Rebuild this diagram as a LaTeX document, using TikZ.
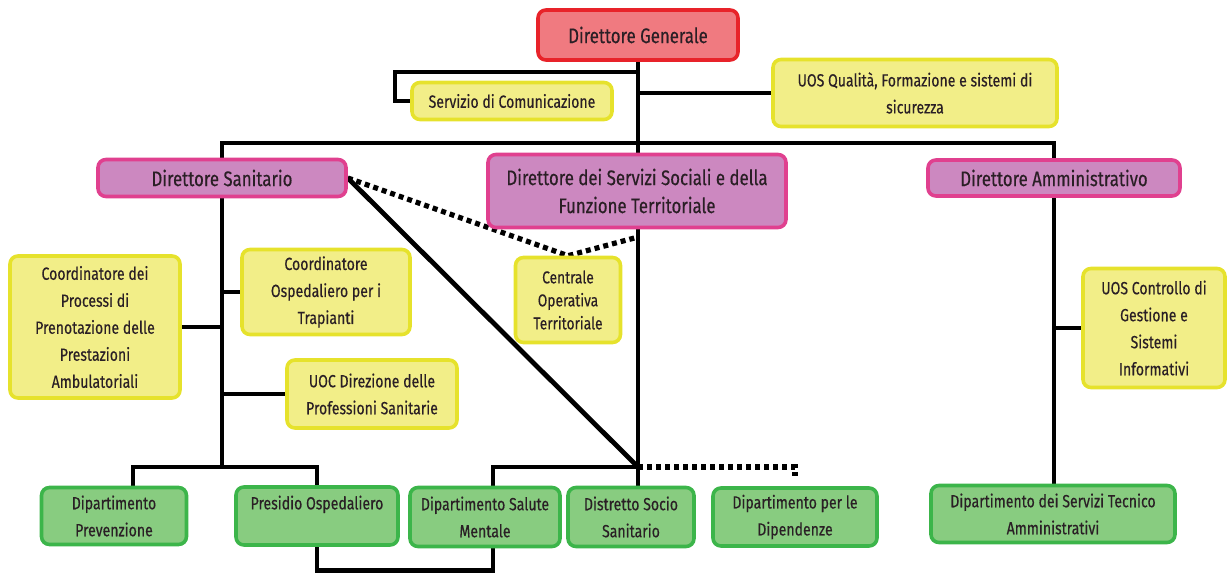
\documentclass[tikz,border=0pt]{standalone}
\usepackage{fontspec}
\setmainfont{Fira Sans}[FakeStretch=0.8, FakeBold=0.4]
\usepackage{xcolor}
\usetikzlibrary{calc,backgrounds}

\definecolor{inkdark}{HTML}{2A1F25}
\definecolor{genfill}{HTML}{F07A80}
\definecolor{gendraw}{HTML}{E8232A}
\definecolor{dirfill}{HTML}{CC88C0}
\definecolor{dirdraw}{HTML}{E0408F}
\definecolor{stafill}{HTML}{F2EE88}
\definecolor{stadraw}{HTML}{E6E22C}
\definecolor{depfill}{HTML}{88CC80}
\definecolor{depdraw}{HTML}{3CB54A}

\tikzset{
  box/.style={draw, rounded corners=4pt, line width=1.8pt, align=center,
    inner sep=1pt, text=inkdark, font=\fontsize{8.8}{13.5}\selectfont},
  genbox/.style={box, fill=genfill, draw=gendraw, font=\fontsize{10.5}{14}\selectfont},
  dirbox/.style={box, fill=dirfill, draw=dirdraw, font=\fontsize{10.5}{14}\selectfont},
  stabox/.style={box, fill=stafill, draw=stadraw},
  depbox/.style={box, fill=depfill, draw=depdraw},
  link/.style={line width=2.4pt, draw=black},
  dotlink/.style={line width=2.6pt, draw=black, dash pattern=on 2.5pt off 2pt}
}

\begin{document}
\begin{tikzpicture}[x=0.5pt, y=-0.5pt]
    \useasboundingbox (0,0) rectangle (1227,573);

    % Vertice
    \node[genbox, minimum width=100pt, minimum height=25pt] (gen) at (638,35) {Direttore Generale};
    \node[stabox, minimum width=100pt, minimum height=18.5pt] (com) at (512,101) {Servizio di Comunicazione};
    \node[stabox, minimum width=142pt, minimum height=33.5pt] (qual) at (915,93) {UOS Qualità, Formazione e sistemi di\\sicurezza};

    % Direttori
    \node[dirbox, minimum width=124pt, minimum height=18.5pt] (san) at (222,178) {Direttore Sanitario};
    \node[dirbox, minimum width=149pt, minimum height=36.5pt] (soc) at (637,191) {Direttore dei Servizi Sociali e della\\Funzione Territoriale};
    \node[dirbox, minimum width=126pt, minimum height=18pt] (amm) at (1054,178) {Direttore Amministrativo};

    % Staff
    \node[stabox, minimum width=85pt, minimum height=71pt] (cpp) at (95,327) {Coordinatore dei\\Processi di\\Prenotazione delle\\Prestazioni\\Ambulatoriali};
    \node[stabox, minimum width=84pt, minimum height=42.5pt] (cot) at (326,292) {Coordinatore\\Ospedaliero per i\\Trapianti};
    \node[stabox, minimum width=85pt, minimum height=34pt] (uoc) at (372,394) {UOC Direzione delle\\Professioni Sanitarie};
    \node[stabox, minimum width=52.5pt, minimum height=42.5pt, font=\fontsize{8.6}{11.5}\selectfont] (cen) at (568,300) {Centrale\\Operativa\\Territoriale};
    \node[stabox, minimum width=71pt, minimum height=59.5pt] (uosc) at (1154,328) {UOS Controllo di\\Gestione e\\Sistemi\\Informativi};

    % Dipartimenti
    \node[depbox, minimum width=72.5pt, minimum height=28.5pt] (dprev) at (114,516) {Dipartimento\\Prevenzione};
    \node[depbox, minimum width=81pt, minimum height=29pt] (pres) at (317,516) {Presidio Ospedaliero\\~};
    \node[depbox, minimum width=75pt, minimum height=29.5pt] (dsm) at (485,517) {Dipartimento Salute\\Mentale};
    \node[depbox, minimum width=63pt, minimum height=29.5pt] (dss) at (631,517) {Distretto Socio\\Sanitario};
    \node[depbox, minimum width=82pt, minimum height=29pt] (ddip) at (795,517) {Dipartimento per le\\Dipendenze};
    \node[depbox, minimum width=122pt, minimum height=28.5pt] (dsta) at (1053,514) {Dipartimento dei Servizi Tecnico\\Amministrativi};

    \coordinate (J) at (638,467);
    \coordinate (c1) at (395,72);
    \coordinate (b) at (638,143);

    \begin{scope}[on background layer]
        % Linea principale
        \draw[link] (gen.south) -- (gen.south |- J);
        \draw[link] (gen.south |- c1) -- (c1) |- (com.west);
        \draw[link] (gen.south |- qual.west) -- (qual.west);
        \draw[link] (san.north) |- (b) -| (amm.north);

        % Direttore Sanitario
        \draw[link] (san.south) -- (san.south |- J);
        \draw[link] (cpp.east) -- (cpp.east -| san.south);
        \draw[link] (cot.west) -- (cot.west -| san.south);
        \draw[link] (uoc.west) -- (uoc.west -| san.south);
        \draw[link] ([xshift=9.5pt]dprev.north) |- (san.south |- J) -| (pres.north);
        \draw[link] (san.east) -- (J);
        \draw[dotlink] (san.east) -- (cen.north) -- ([yshift=-4pt]soc.south);

        % Area territoriale
        \draw[link] (J) -- (J |- dss.north);
        \draw[link] (J) -| ([xshift=4pt]dsm.north);
        \draw[link] ([xshift=4pt]dsm.south) -- ++(0,22) -| (pres.south);
        \draw[dotlink] (J) -| ([yshift=5pt]ddip.north);

        % Direttore Amministrativo
        \draw[link] (amm.south) -- (amm.south |- dsta.north);
        \draw[link] (uosc.west) -- (uosc.west -| amm.south);
    \end{scope}
\end{tikzpicture}
\end{document}
